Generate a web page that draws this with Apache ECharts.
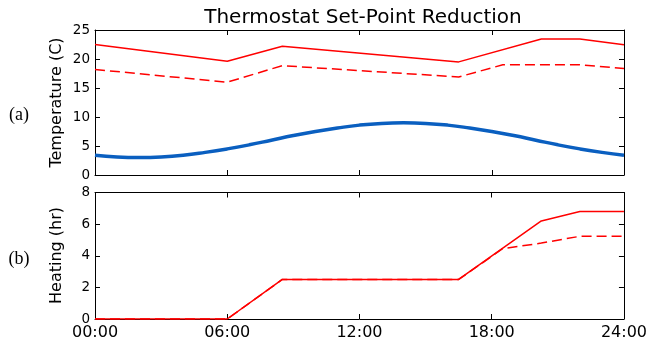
<!DOCTYPE html>
<html>
<head>
<meta charset="utf-8">
<script src="https://cdn.jsdelivr.net/npm/echarts@6/dist/echarts.min.js"></script>
<style>
html,body{margin:0;padding:0;background:#fff;}
#chart{width:650px;height:342px;}
</style>
</head>
<body>
<div id="chart"></div>
<script>
// ---- data ----
var title = 'Thermostat Set-Point Reduction';
var hours = [0,1,2,3,4,5,6,7,8,9,10,11,12,13,14,15,16,17,18,19,20,21,22,23,24];
var outdoorTemp = [3.4,3.1,3.0,3.1,3.4,3.9,4.5,5.2,6.0,6.8,7.5,8.1,8.6,8.9,9.0,8.9,8.6,8.1,7.5,6.8,6.0,5.2,4.5,3.9,3.4];
var baseSetX = [0,6,8.5,16.5,20.25,22,24];
var baseSetY = [22.5,19.6,22.2,19.5,23.45,23.45,22.45];
var redSetX = [0,6,8.5,16.5,18.5,22,24];
var redSetY = [18.2,16.0,18.85,16.9,19.0,19.0,18.35];
var baseHeatX = [0,6,8.5,16.5,20.25,22,24];
var baseHeatY = [0,0,2.5,2.5,6.2,6.8,6.8];
var redHeatX = [0,6,8.5,16.5,18.5,20.25,22,24];
var redHeatY = [0,0,2.5,2.5,4.45,4.8,5.23,5.23];
var xTickLabels = ['00:00','06:00','12:00','18:00','24:00'];
var yLabelTop = 'Temperature (C)';
var yLabelBottom = 'Heating (hr)';
var panelLabels = ['(a)','(b)'];

function pairs(xs, ys){ return xs.map(function(x,i){return [x, ys[i]];}); }

var FONT = 'DejaVu Sans';
var chart = echarts.init(document.getElementById('chart'), null, {renderer:'canvas'});

function xAx(gi, pos, showLabels){
  return {
    type:'value', gridIndex:gi, position:pos, min:0, max:24, interval:6,
    axisLine:{show:true, onZero:false, lineStyle:{color:'#000', width:1}},
    axisTick:{show:true, inside:true, length:5, lineStyle:{color:'#000'}},
    axisLabel:{show:showLabels, color:'#000', fontFamily:FONT, fontSize:16, margin:6,
      formatter:function(v){ return xTickLabels[Math.round(v/6)]; }},
    splitLine:{show:false}
  };
}
function yAx(gi, pos, max, interval, showLabels){
  return {
    type:'value', gridIndex:gi, position:pos, min:0, max:max, interval:interval,
    axisLine:{show:true, onZero:false, lineStyle:{color:'#000', width:1}},
    axisTick:{show:true, inside:true, length:5, lineStyle:{color:'#000'}},
    axisLabel:{show:showLabels, color:'#000', fontFamily:FONT, fontSize:13.5, margin:5},
    splitLine:{show:false}
  };
}

var option = {
  animation:false,
  backgroundColor:'#fff',
  title:{text:title, left:358, top:3, textAlign:'center',
    textStyle:{fontFamily:FONT, fontSize:20, fontWeight:'normal', color:'#000'}},
  grid:[
    {left:95, right:26, top:30, height:145},
    {left:95, right:26, top:192.5, height:126.5}
  ],
  xAxis:[ xAx(0,'bottom',false), xAx(0,'top',false), xAx(1,'bottom',true), xAx(1,'top',false) ],
  yAxis:[ yAx(0,'left',25,5,true), yAx(0,'right',25,5,false), yAx(1,'left',8,2,true), yAx(1,'right',8,2,false) ],
  graphic:[
    {type:'text', x:57, y:102.5, rotation:Math.PI/2,
      style:{text:yLabelTop, fontFamily:FONT, fontSize:16, fill:'#000', textAlign:'center', textVerticalAlign:'middle'}},
    {type:'text', x:57, y:255.5, rotation:Math.PI/2,
      style:{text:yLabelBottom, fontFamily:FONT, fontSize:16, fill:'#000', textAlign:'center', textVerticalAlign:'middle'}},
    {type:'text', x:19, y:115,
      style:{text:panelLabels[0], fontFamily:'Liberation Serif', fontSize:18, fill:'#000', textAlign:'center', textVerticalAlign:'middle'}},
    {type:'text', x:19, y:259,
      style:{text:panelLabels[1], fontFamily:'Liberation Serif', fontSize:18, fill:'#000', textAlign:'center', textVerticalAlign:'middle'}}
  ],
  series:[
    {type:'line', xAxisIndex:0, yAxisIndex:0, data:pairs(hours, outdoorTemp), smooth:true, showSymbol:false,
      lineStyle:{color:'#0a5fc0', width:3.5}},
    {type:'line', xAxisIndex:0, yAxisIndex:0, data:pairs(redSetX, redSetY), showSymbol:false,
      lineStyle:{color:'#ff0000', width:1.5, type:[10,5]}},
    {type:'line', xAxisIndex:0, yAxisIndex:0, data:pairs(baseSetX, baseSetY), showSymbol:false,
      lineStyle:{color:'#ff0000', width:1.5}},
    {type:'line', xAxisIndex:2, yAxisIndex:2, data:pairs(redHeatX, redHeatY), showSymbol:false,
      lineStyle:{color:'#ff0000', width:1.5, type:[10,5]}},
    {type:'line', xAxisIndex:2, yAxisIndex:2, data:pairs(baseHeatX, baseHeatY), showSymbol:false,
      lineStyle:{color:'#ff0000', width:1.5}}
  ]
};
chart.setOption(option);
</script>
</body>
</html>
